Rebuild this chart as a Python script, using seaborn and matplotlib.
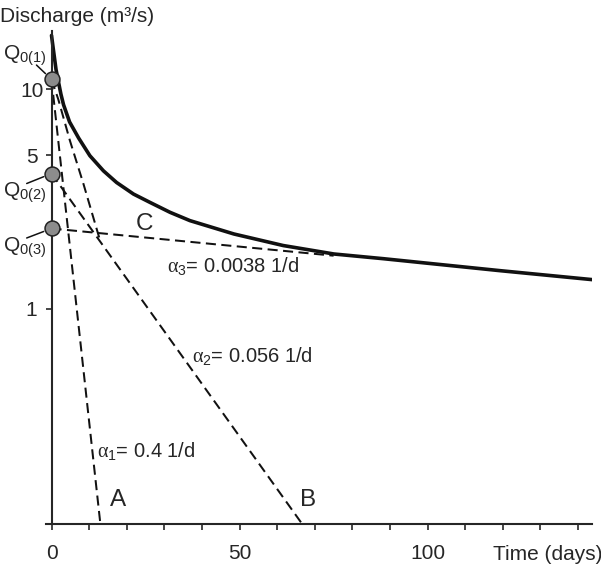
import numpy as np
import pandas as pd
import matplotlib
matplotlib.use("Agg")
import matplotlib.pyplot as plt
from matplotlib.ticker import FixedLocator, FixedFormatter, NullLocator
import seaborn as sns

# ---------------------------
# data
# ---------------------------
# total recession hydrograph (solid)
days_total = [0, 0.4, 1.2, 2.5, 3.2, 4.8, 7.2, 10.2, 13.8, 17.3, 21.8, 26.2,
              31.5, 36.8, 48.5, 61.6, 75.1, 88.2, 101.7, 119.3, 145.0]
q_total = [17.6, 15.6, 12.3, 9.5, 8.5, 7.1, 6.0, 4.98, 4.25, 3.76, 3.33, 3.05,
           2.75, 2.52, 2.19, 1.94, 1.775, 1.69, 1.60, 1.49, 1.35]

# residual curve after removing component C (dashed, merges into B)
days_ab = [0, 1.8, 4.9, 8.5, 13.0]
q_ab = [11.1, 9.0, 5.83, 3.70, 2.02]

# straight reservoirs on log scale: start / end points
days_a = [0, 13.0]
q_a = [11.1, 0.104]
days_b = [0, 66.7]
q_b = [4.13, 0.104]
days_c = [0, 75.0]
q_c = [2.32, 1.744]

# intercepts Q0
q0_days = [0, 0, 0]
q0_values = [11.1, 4.13, 2.32]
q0_names = ["0(1)", "0(2)", "0(3)"]

alpha_labels = [r"$\alpha_{\mathrm{1}}$= 0.4 1/d",
                r"$\alpha_{\mathrm{2}}$= 0.056 1/d",
                r"$\alpha_{\mathrm{3}}$= 0.0038 1/d"]

xtick_values = list(range(0, 150, 10))
xtick_labels = ["0", "", "", "", "", "50", "", "", "", "", "100", "", "", "", ""]
ytick_values = [1, 5, 10]
ytick_labels = ["1", "5", "10"]

# ---------------------------
# style
# ---------------------------
sns.set_style("ticks")
plt.rcParams["font.family"] = ["Liberation Sans", "DejaVu Sans"]
plt.rcParams["mathtext.fontset"] = "custom"
plt.rcParams["mathtext.rm"] = "Liberation Sans"
plt.rcParams["mathtext.it"] = "Liberation Serif"
plt.rcParams["axes.linewidth"] = 1.5

fig = plt.figure(figsize=(6.01, 5.66), dpi=100)
ax = fig.add_axes([45.5 / 601, (566 - 524.3) / 566, 546.5 / 601, 493.6 / 566])

ink = "#111111"
dash = (0, (5, 2.7))

sns.lineplot(x=days_total, y=q_total, ax=ax, color=ink, lw=2.6, sort=False)
for dd, qq in [(days_ab, q_ab), (days_a, q_a), (days_b, q_b), (days_c, q_c)]:
    sns.lineplot(x=dd, y=qq, ax=ax, color=ink, lw=1.45, linestyle=dash, sort=False)

sns.scatterplot(x=q0_days, y=q0_values, ax=ax, s=115, color="#8c8c8c",
                edgecolor="#222222", linewidth=1.1, zorder=5, clip_on=False)

ax.set_yscale("log")
ax.set_xlim(-1.6, 143.7)
ax.set_ylim(0.104, 18.5)

ax.spines["top"].set_visible(False)
ax.spines["right"].set_visible(False)
ax.spines["left"].set_position(("data", 0))

ax.xaxis.set_major_locator(FixedLocator(xtick_values))
ax.xaxis.set_major_formatter(FixedFormatter(xtick_labels))
ax.yaxis.set_major_locator(FixedLocator(ytick_values))
ax.yaxis.set_major_formatter(FixedFormatter(ytick_labels))
ax.yaxis.set_minor_locator(NullLocator())
ax.tick_params(axis="x", direction="out", length=4.3, width=1.2, pad=10, labelsize=15)
ax.tick_params(axis="y", direction="out", length=4.3, width=1.2, pad=10, labelsize=15)
for lab in ax.get_yticklabels():
    lab.set_horizontalalignment("center")
ax.set_xlabel("")
ax.set_ylabel("")

# ---------------------------
# labels
# ---------------------------
fig.text(0.0, 1 - 17 / 566, "Discharge (m\u00b3/s)", fontsize=15, va="center", ha="left")
fig.text(493 / 601, 1 - 554 / 566, "Time (days)", fontsize=15, va="center", ha="left")

q_label_pos = [(-13.0, 14.2), (-13.0, 3.36), (-13.0, 1.89)]
q_leader_start = [(-4.0, 12.9), (-6.6, 3.72), (-6.6, 2.10)]
for name, qv, pos, start in zip(q0_names, q0_values, q_label_pos, q_leader_start):
    ax.text(pos[0], pos[1], "Q$_{\\mathrm{" + name + "}}$", fontsize=15,
            ha="left", va="center", clip_on=False)
    ax.annotate("", xy=(0, qv), xytext=start, annotation_clip=False,
                arrowprops=dict(arrowstyle="-", color=ink, lw=1.1, shrinkA=0, shrinkB=6))

ax.text(24.8, 2.44, "C", fontsize=17.5, ha="center", va="center")
ax.text(17.7, 0.1346, "A", fontsize=17.5, ha="center", va="center")
ax.text(68.1, 0.1346, "B", fontsize=17.5, ha="center", va="center")

ax.text(12.1, 0.225, alpha_labels[0], fontsize=14.5, ha="left", va="center")
ax.text(37.3, 0.61, alpha_labels[1], fontsize=14.5, ha="left", va="center")
ax.text(30.6, 1.57, alpha_labels[2], fontsize=14.5, ha="left", va="center")

fig.savefig("out.png", dpi=100)
